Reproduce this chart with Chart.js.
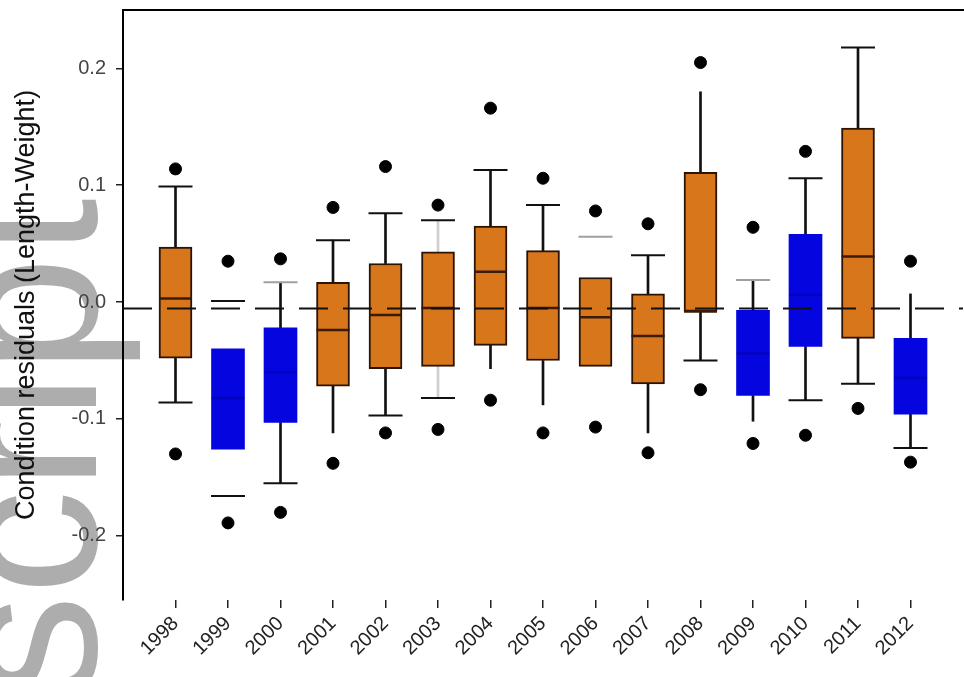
<!DOCTYPE html>
<html>
<head>
<meta charset="utf-8">
<script src="https://cdn.jsdelivr.net/npm/chart.js@4.4.1/dist/chart.umd.min.js"></script>
<style>
  body { margin: 0; background: #fff; }
  canvas { display: block; }
</style>
</head>
<body>
<canvas id="conditionChart" width="964" height="677"></canvas>
<script>
const years = ['1998', '1999', '2000', '2001', '2002', '2003', '2004', '2005', '2006', '2007', '2008', '2009', '2010', '2011', '2012'];
const yTicks = [-0.2, -0.1, 0, 0.1, 0.2];
const refLine = -0.0055;

// box statistics
const q1 = [-0.048, -0.126, -0.103, -0.072, -0.057, -0.055, -0.037, -0.050, -0.055, -0.070, -0.008, -0.080, -0.038, -0.031, -0.096];
const median = [0.003, -0.082, -0.060, -0.024, -0.011, -0.005, 0.026, -0.005, -0.013, -0.029, -0.008, -0.044, 0.006, 0.039, -0.065];
const q3 = [0.047, -0.040, -0.022, 0.017, 0.033, 0.043, 0.065, 0.044, 0.021, 0.007, 0.111, -0.007, 0.058, 0.149, -0.031];
const whiskerLo = [-0.086, null, -0.155, -0.112, -0.097, -0.082, -0.057, -0.088, null, -0.112, -0.050, -0.102, -0.084, -0.070, -0.125];
const whiskerHi = [0.099, null, 0.017, 0.053, 0.076, 0.070, 0.113, 0.083, null, 0.040, 0.180, 0.019, 0.106, 0.218, 0.007];
const capLo = [-0.086, -0.166, -0.155, null, -0.097, -0.082, null, null, null, null, -0.050, null, -0.084, -0.070, -0.125];
const capHi = [0.099, 0.001, 0.017, 0.053, 0.076, 0.070, 0.113, 0.083, 0.056, 0.040, null, 0.019, 0.106, 0.218, null];
const outLo = [-0.130, -0.189, -0.180, -0.138, -0.112, -0.109, -0.084, -0.112, -0.107, -0.129, -0.075, -0.121, -0.114, -0.091, -0.137];
const outHi = [0.114, 0.035, 0.037, 0.081, 0.116, 0.083, 0.166, 0.106, 0.078, 0.067, 0.205, 0.064, 0.129, null, 0.035];

// years drawn in blue, the rest orange
const blueYears = ['1999', '2000', '2009', '2010', '2012'];
const faintStems = ['2003'];
const faintCaps = ['2000', '2006', '2009'];

const ORANGE = '#d8761c';
const BLUE = '#0505e0';

const isBlue = (i) => blueYears.includes(years[i]);
const points = (arr) => arr.map((v, i) => ({ x: i + 1, y: v })).filter((p) => p.y !== null);
const ranges = (lo, hi) =>
  lo.map((v, i) => ({ x: i + 1, y: [v, hi[i]], year: years[i] })).filter((p) => p.y[0] !== null && p.y[1] !== null);

Chart.defaults.font.family = '"Liberation Sans", Arial, Helvetica, sans-serif';

// grey watermark behind the plot
const watermark = {
  id: 'watermark',
  beforeDraw(chart) {
    const ctx = chart.ctx;
    ctx.save();
    ctx.translate(96, 700);
    ctx.rotate(-Math.PI / 2);
    ctx.font = '210px "Liberation Sans", Arial, sans-serif';
    ctx.fillStyle = '#adadad';
    ctx.textBaseline = 'alphabetic';
    ctx.fillText('script', 0, 0);
    ctx.restore();
  },
};

const stemData = ranges(whiskerLo, q1).concat(ranges(q3, whiskerHi));
const boxData = ranges(q1, q3);
const capData = points(capHi).map((p) => ({ ...p, faint: faintCaps.includes(years[p.x - 1]) })).concat(points(capLo));

new Chart(document.getElementById('conditionChart'), {
  type: 'bar',
  data: {
    datasets: [
      {
        type: 'line',
        data: [{ x: 0, y: refLine }, { x: 16, y: refLine }],
        borderColor: '#111',
        borderWidth: 2,
        borderDash: [29, 15],
        pointRadius: 0,
        order: 1,
      },
      {
        type: 'scatter',
        data: points(outLo).concat(points(outHi)),
        pointStyle: 'circle',
        pointRadius: 6,
        backgroundColor: '#000',
        borderColor: '#000',
        order: 2,
      },
      {
        type: 'scatter',
        data: points(median),
        pointStyle: 'line',
        pointRadius: 16.5,
        borderWidth: 2.5,
        borderColor: (c) => (isBlue(c.dataIndex) ? 'rgba(0,0,110,0.3)' : '#3b1b05'),
        order: 3,
      },
      {
        type: 'scatter',
        data: capData,
        pointStyle: 'line',
        pointRadius: 17,
        borderWidth: 2,
        borderColor: (c) => (c.raw && c.raw.faint ? '#a0a0a0' : '#111'),
        order: 3,
      },
      {
        type: 'bar',
        data: boxData,
        grouped: false,
        barThickness: 33,
        borderSkipped: false,
        borderWidth: (c) => (isBlue(c.dataIndex) ? 0 : 2),
        borderColor: '#2b1404',
        backgroundColor: (c) => (isBlue(c.dataIndex) ? BLUE : ORANGE),
        order: 4,
      },
      {
        type: 'bar',
        data: stemData,
        grouped: false,
        barThickness: 2,
        borderWidth: 0,
        backgroundColor: (c) => (c.raw && faintStems.includes(c.raw.year) ? '#cfcfcf' : '#111'),
        order: 5,
      },
    ],
  },
  options: {
    responsive: false,
    animation: false,
    events: [],
    layout: { autoPadding: false, padding: { left: 0, right: 1, top: 0, bottom: 0 } },
    plugins: {
      legend: { display: false },
      tooltip: { enabled: false },
    },
    scales: {
      x: {
        type: 'linear',
        min: 0,
        max: 16,
        offset: false,
        afterBuildTicks: (axis) => {
          axis.ticks = years.map((y, i) => ({ value: i + 1 }));
        },
        afterFit: (scale) => {
          scale.height = 77;
          scale.paddingLeft = 0;
          scale.paddingRight = 0;
        },
        grid: { drawOnChartArea: false, drawTicks: true, tickLength: 8, color: '#222', lineWidth: 1.5, offset: false },
        border: { display: false },
        ticks: {
          autoSkip: false,
          minRotation: 45,
          maxRotation: 45,
          padding: 4,
          color: '#222',
          font: { size: 20 },
          callback: (v) => years[Math.round(v) - 1] || '',
        },
      },
      xTop: {
        type: 'linear',
        position: 'top',
        min: 0,
        max: 16,
        afterFit: (scale) => {
          scale.height = 10;
          scale.paddingLeft = 0;
          scale.paddingRight = 0;
        },
        ticks: { display: false },
        grid: { display: false },
        border: { display: true, width: 2, color: '#000' },
      },
      y: {
        type: 'linear',
        min: -0.255,
        max: 0.25,
        beginAtZero: false,
        afterBuildTicks: (axis) => {
          axis.ticks = yTicks.map((v) => ({ value: v }));
        },
        afterFit: (scale) => {
          scale.width = 123;
          scale.paddingTop = 0;
          scale.paddingBottom = 0;
        },
        grid: { drawOnChartArea: false, tickLength: 7, color: '#222', lineWidth: 1.5 },
        border: { display: true, width: 2, color: '#000' },
        ticks: {
          padding: 10,
          color: '#444',
          font: { size: 20 },
          callback: (v) => v.toFixed(1),
        },
        title: {
          display: true,
          text: 'Condition residuals (Length-Weight)',
          color: '#111',
          font: { size: 27 },
          padding: { top: 10, bottom: 0 },
        },
      },
    },
  },
  plugins: [watermark],
});
</script>
</body>
</html>
